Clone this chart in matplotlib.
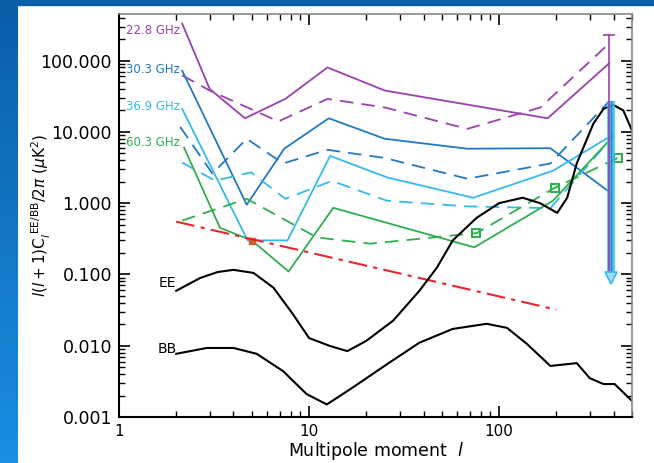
import matplotlib
matplotlib.use("Agg")
import matplotlib.pyplot as plt
import numpy as np
from matplotlib.patches import Rectangle

# --- foreground band-power limits per WMAP channel (multipole l, value in uK^2)
purple_l = [2.15, 3.0, 4.6, 7.5, 12.5, 25, 180, 380]
purple_v = [330, 40, 15.5, 29, 80, 38, 15.5, 92]
purple_dash_l = [2.15, 3.0, 6.9, 12.5, 25, 68, 165, 380]
purple_dash_v = [62, 38, 14, 29, 22, 11, 22, 175]

blue_l = [2.15, 4.7, 7.4, 12.7, 25, 68, 186, 385]
blue_v = [72, 0.95, 5.8, 15.5, 8.0, 5.8, 5.9, 1.4]
blue_dash_l = [2.1, 3.1, 4.7, 7.3, 12.5, 25, 68, 186, 380]
blue_dash_v = [11.7, 2.6, 8.0, 3.6, 5.6, 4.3, 2.2, 3.6, 27]

cyan_l = [2.15, 4.75, 7.7, 12.9, 25.7, 73, 192, 380]
cyan_v = [21, 0.30, 0.30, 4.6, 2.3, 1.19, 2.85, 8.5]
cyan_dash_l = [2.15, 3.2, 4.95, 7.5, 13.2, 25.7, 68, 186, 380]
cyan_dash_v = [3.7, 2.07, 2.7, 1.15, 2.05, 1.08, 0.9, 0.85, 7.5]

green_l = [2.2, 3.4, 5.0, 7.8, 13.4, 74, 192, 400]
green_v = [6.0, 0.45, 0.30, 0.11, 0.86, 0.24, 1.08, 8.8]
green_dash_l = [2.15, 4.7, 11, 21, 76, 196, 420]
green_dash_v = [0.57, 1.15, 0.33, 0.27, 0.38, 1.64, 4.3]
green_sq_l = [76, 196, 420]
green_sq_v = [0.38, 1.64, 4.3]

red_l = [2.0, 200]
red_v = [0.55, 0.032]

ee_l = [2, 2.67, 3.3, 4, 5.1, 6.5, 8.2, 10, 12.9, 15.9, 20, 27.7, 38, 47, 57,
        76, 100, 133, 164, 202, 228, 256, 313, 354, 397, 450, 500]
ee_v = [0.059, 0.089, 0.108, 0.116, 0.105, 0.065, 0.028, 0.0128, 0.0099, 0.0084,
        0.0117, 0.0225, 0.0587, 0.124, 0.30, 0.62, 1.0, 1.19, 1.0, 0.73, 1.19,
        3.6, 13, 21, 24, 20, 10.4]

bb_l = [2, 2.9, 4, 5.3, 7.3, 9.7, 12.4, 17, 25.7, 38, 57, 86, 110, 140, 186,
        256, 300, 354, 405, 500]
bb_v = [0.0077, 0.0093, 0.0093, 0.0077, 0.0044, 0.0021, 0.0015, 0.0026, 0.0055,
        0.011, 0.0172, 0.0203, 0.0178, 0.0106, 0.0052, 0.0057, 0.0035, 0.0029,
        0.0029, 0.00168]

# upper limits at the highest multipole bin
lim_l = 380
lim_purple_top = 225
lim_cyan_top = 27
lim_bottom = 0.09

channels = ["22.8 GHz", "30.3 GHz", "36.9 GHz", "60.3 GHz"]
yticks = [0.001, 0.01, 0.1, 1, 10, 100]
ytick_labels = ["0.001", "0.010", "0.100", "1.000", "10.000", "100.000"]
xticks = [1, 10, 100]
xtick_labels = ["1", "10", "100"]

PURPLE = "#9c3fb0"
BLUE = "#2178c4"
CYAN = "#36b9ee"
GREEN = "#2fae4e"
RED = "#e8262b"

fig = plt.figure(figsize=(6.54, 4.63), dpi=100)

# blue slide frame: gradient strip on the left, thin band on top
band = fig.add_axes([0, 0, 18 / 654, 1])
grad = np.linspace(0, 1, 256).reshape(-1, 1)
band.imshow(grad, aspect="auto", cmap=matplotlib.colors.LinearSegmentedColormap.from_list(
    "slide", ["#0a5ea6", "#1a8ee2"]), extent=[0, 1, 1, 0])
band.axis("off")
fig.patches.append(Rectangle((0, 1 - 5 / 463), 1, 5 / 463, transform=fig.transFigure,
                             color="#0a60a8", zorder=0))

ax = fig.add_axes([119 / 654, 1 - 417 / 463, 513 / 654, 403 / 463])
ax.set_xscale("log")
ax.set_yscale("log")
ax.set_xlim(1, 500)
ax.set_ylim(0.001, 450)

lw = 1.3
dash = (0, (7.5, 4.5))
ax.plot(purple_l, purple_v, color=PURPLE, lw=lw)
ax.plot(purple_dash_l, purple_dash_v, color=PURPLE, lw=lw, ls=dash)
ax.plot(blue_l, blue_v, color=BLUE, lw=lw)
ax.plot(blue_dash_l, blue_dash_v, color=BLUE, lw=lw, ls=dash)
ax.plot(cyan_l, cyan_v, color=CYAN, lw=lw)
ax.plot(cyan_dash_l, cyan_dash_v, color=CYAN, lw=lw, ls=dash)
ax.plot(green_l, green_v, color=GREEN, lw=lw)
ax.plot(green_dash_l, green_dash_v, color=GREEN, lw=lw, ls=dash)
ax.plot(green_sq_l, green_sq_v, ls="none", marker="s", ms=6, mfc="none",
        mec=GREEN, mew=1.5)
ax.plot([5.0], [0.29], ls="none", marker="s", ms=4, color="#c8622e")
ax.plot(red_l, red_v, color=RED, lw=1.5, ls=(0, (9, 3, 2, 3)))

ax.plot(ee_l, ee_v, color="black", lw=1.5)
ax.plot(bb_l, bb_v, color="black", lw=1.5)

# upper-limit arrows
ax.plot([lim_l * 1.025] * 2, [lim_cyan_top, lim_bottom], color=CYAN, lw=5.5, alpha=0.9,
        solid_capstyle="butt")
ax.plot([lim_l * 1.025] * 2, [lim_cyan_top, lim_bottom], color=BLUE, lw=0.8)
ax.plot([lim_l] * 2, [lim_purple_top, lim_bottom], color=PURPLE, lw=1.2)
ax.plot([lim_l], [lim_purple_top], marker="_", ms=9, mew=1.2, color=PURPLE)
ax.plot([lim_l * 1.015], [lim_bottom], marker="v", ms=9, mfc="#9fdcf7",
        mec=CYAN, mew=1.2, ls="none")

for name, ypos, col in zip(channels, [0.958, 0.862, 0.770, 0.680],
                           [PURPLE, BLUE, CYAN, GREEN]):
    ax.text(0.014, ypos, name, transform=ax.transAxes, color=col, fontsize=8.5,
            va="center", ha="left")
ax.text(0.112, 0.332, "EE", transform=ax.transAxes, fontsize=10, va="center", ha="right")
ax.text(0.112, 0.168, "BB", transform=ax.transAxes, fontsize=10, va="center", ha="right")

ax.set_yticks(yticks)
ax.set_yticklabels(ytick_labels, fontsize=12.5)
ax.set_xticks(xticks)
ax.set_xticklabels(xtick_labels, fontsize=11)
ax.tick_params(which="both", direction="in", top=True, right=True)
ax.tick_params(which="major", length=8, width=1.2, pad=5)
ax.tick_params(which="minor", length=4, width=1.0)
ax.yaxis.set_minor_locator(matplotlib.ticker.LogLocator(base=10, subs=np.arange(2, 10)))
ax.yaxis.set_minor_formatter(matplotlib.ticker.NullFormatter())

for side in ["left", "bottom"]:
    ax.spines[side].set_linewidth(1.5)
for side in ["top", "right"]:
    ax.spines[side].set_color("#888888")
    ax.spines[side].set_linewidth(1.2)

ax.set_xlabel("Multipole moment  $l$", fontsize=12.5, labelpad=1)
ax.set_ylabel(r"$l(l+1)\mathrm{C}_l^{\ \mathrm{EE/BB}}/2\pi\ (\mu\mathrm{K}^2)$",
              fontsize=11)
ax.yaxis.set_label_coords(-0.128, 0.5)

fig.savefig("out.png", dpi=100)
